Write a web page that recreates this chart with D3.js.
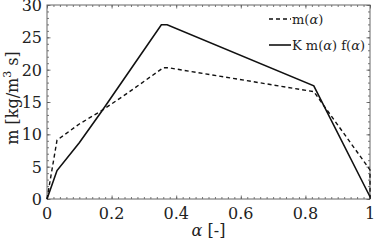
<!DOCTYPE html>
<html>
<head>
<meta charset="utf-8">
<script src="https://cdn.jsdelivr.net/npm/d3@7"></script>
<style>
  body { margin: 0; background: #fff; }
  svg text { font-family: 'DejaVu Serif', 'Liberation Serif', serif; }
</style>
</head>
<body>
<svg id="chart" width="374" height="242"></svg>
<script>
// m(alpha), dashed
const alphaM = [0, 0.031, 0.1, 0.17, 0.25, 0.36, 0.375, 0.826, 1, 1];
const valuesM = [0, 9.1, 11.6, 13.7, 16.4, 20.3, 20.3, 16.6, 4.5, 0];
// K m(alpha) f(alpha), solid
const alphaK = [0, 0.031, 0.1, 0.17, 0.25, 0.354, 0.372, 0.826, 1];
const valuesK = [0, 4.4, 8.7, 13.6, 19.4, 26.95, 26.95, 17.5, 0.35];
const xTicks = [0, 0.2, 0.4, 0.6, 0.8, 1];
const yTicks = [0, 5, 10, 15, 20, 25, 30];
const legendLabels = ["m(α)", "K m(α) f(α)"];

const svg = d3.select("#chart");
const margin = {top: 5, right: 4, bottom: 43, left: 47};
const width = 374 - margin.left - margin.right,
      height = 242 - margin.top - margin.bottom;

const x = d3.scaleLinear().domain([0, 1]).range([0, width]);
const y = d3.scaleLinear().domain([0, 30]).range([height, 0]);

const g = svg.append("g").attr("transform", `translate(${margin.left},${margin.top})`);

// minor ticks on all four sides, inward
const xMinor = d3.range(0, 1.0001, 0.02);
const yMinor = d3.range(0, 30.001, 1);
const tickColor = "#555";

function axisTicks(axis, ticks, len) {
  return axis.tickValues(ticks).tickSize(-len).tickFormat("");
}

[[d3.axisBottom(x), `translate(0,${height})`, xMinor, 2],
 [d3.axisTop(x), null, xMinor, 2],
 [d3.axisLeft(y), null, yMinor, 2],
 [d3.axisRight(y), `translate(${width},0)`, yMinor, 2],
 [d3.axisBottom(x), `translate(0,${height})`, xTicks, 3.5],
 [d3.axisTop(x), null, xTicks, 3.5],
 [d3.axisLeft(y), null, yTicks, 3.5],
 [d3.axisRight(y), `translate(${width},0)`, yTicks, 3.5]
].forEach(([ax, tr, ticks, len]) => {
  const a = g.append("g").call(axisTicks(ax, ticks, len));
  if (tr) a.attr("transform", tr);
  a.select(".domain").remove();
  a.selectAll("line").attr("stroke", tickColor).attr("stroke-width", 0.8);
});

g.append("rect")
  .attr("x", 0).attr("y", 0).attr("width", width).attr("height", height)
  .attr("fill", "none").attr("stroke", "#666").attr("stroke-width", 1);

// tick labels
g.selectAll(".xl").data(xTicks).enter().append("text")
  .attr("x", d => x(d)).attr("y", height + 20)
  .attr("text-anchor", "middle").attr("font-size", 16).attr("fill", "#222")
  .text(d => d);

g.selectAll(".yl").data(yTicks).enter().append("text")
  .attr("x", -5).attr("y", d => y(d) + 6)
  .attr("text-anchor", "end").attr("font-size", 16).attr("fill", "#222")
  .text(d => d);

// axis titles
const xt = g.append("text")
  .attr("x", width / 2).attr("y", height + 37)
  .attr("text-anchor", "middle").attr("font-size", 16).attr("fill", "#222");
xt.append("tspan").attr("font-style", "italic").text("α");
xt.append("tspan").text(" [-]");

const yt = g.append("text")
  .attr("transform", `translate(${-29},${height / 2 - 4}) rotate(-90)`)
  .attr("text-anchor", "middle").attr("font-size", 16).attr("fill", "#222");
yt.append("tspan").text("m [kg/m");
yt.append("tspan").attr("font-size", 11).attr("dy", -7).text("3");
yt.append("tspan").attr("dy", 7).text(" s]");

// lines
const line = d3.line().x(d => x(d[0])).y(d => y(d[1]));

g.append("path")
  .datum(d3.zip(alphaM, valuesM))
  .attr("d", line)
  .attr("fill", "none").attr("stroke", "#111").attr("stroke-width", 1.4)
  .attr("stroke-dasharray", "4,3");

g.append("path")
  .datum(d3.zip(alphaK, valuesK))
  .attr("d", line)
  .attr("fill", "none").attr("stroke", "#111").attr("stroke-width", 1.6);

// legend
const leg = g.append("g").attr("transform", "translate(222,0)");
legendLabels.forEach((lab, i) => {
  const yy = 14 + i * 26;
  leg.append("line")
    .attr("x1", 0).attr("x2", 22).attr("y1", yy).attr("y2", yy)
    .attr("stroke", "#111").attr("stroke-width", i ? 1.6 : 1.4)
    .attr("stroke-dasharray", i ? null : "4,3");
  const t = leg.append("text").attr("x", 23).attr("y", yy + 5)
    .attr("font-size", 13).attr("fill", "#222");
  lab.split("α").forEach((part, j, arr) => {
    t.append("tspan").text(part);
    if (j < arr.length - 1) t.append("tspan").attr("font-style", "italic").text("α");
  });
});
</script>
</body>
</html>
